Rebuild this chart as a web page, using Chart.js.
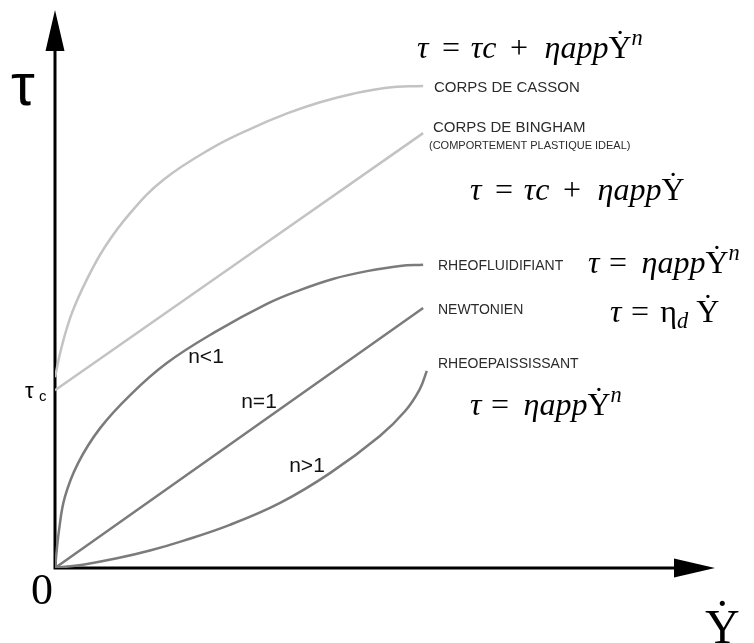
<!DOCTYPE html>
<html>
<head>
<meta charset="utf-8">
<script src="https://cdn.jsdelivr.net/npm/chart.js@4.4.1/dist/chart.umd.min.js"></script>
<style>
  html, body { margin: 0; padding: 0; background: #fff; }
  #wrap { width: 754px; height: 643px; }
</style>
</head>
<body>
<div id="wrap"><canvas id="rheo" width="754" height="643"></canvas></div>
<script>
// shear rate (x) and shear stress (y), arbitrary units
const cassonX = [0, 0.18, 0.46, 0.86, 1.36, 2.05, 2.95, 4.23, 5.32, 6.33, 7.23, 8.13, 9.05, 10.04];
const cassonY = [5.13, 5.94, 6.85, 7.74, 8.63, 9.54, 10.43, 11.26, 11.8, 12.22, 12.52, 12.75, 12.91, 12.96];

const binghamX = [0, 10.04];
const binghamY = [4.78, 11.69];

const fluidX = [0, 0.11, 0.27, 0.63, 1.23, 2.05, 3.05, 4.36, 5.78, 6.68, 7.58, 8.51, 9.41, 10.04];
const fluidY = [0, 1.02, 1.91, 2.82, 3.76, 4.65, 5.51, 6.34, 7.1, 7.47, 7.77, 7.98, 8.12, 8.15];

const newtonX = [0, 10.04];
const newtonY = [0, 6.99];

const thickX = [0, 0.76, 1.69, 2.59, 3.49, 4.77, 6.14, 7.5, 8.86, 9.55, 9.95, 10.14];
const thickY = [0, 0.09, 0.26, 0.47, 0.73, 1.16, 1.75, 2.55, 3.55, 4.22, 4.81, 5.3];

const curveLabels = ["CORPS DE CASSON", "CORPS DE BINGHAM", "RHEOFLUIDIFIANT", "NEWTONIEN", "RHEOEPAISSISSANT"];
const indexLabels = ["n<1", "n=1", "n>1"];

const pts = (xs, ys) => xs.map((x, i) => ({ x: x, y: ys[i] }));
const light = "#c3c3c3", dark = "#7b7b7b";

const serif = '"Liberation Serif"';
const UPS = "\u03A5", DOT = "\u02D9";

// upsilon with a dot above (shear rate symbol)
function ydot(ctx, x, y, size) {
  ctx.font = size + "px " + serif;
  const w = ctx.measureText(UPS).width;
  ctx.fillText(UPS, x, y);
  const dw = ctx.measureText(DOT).width;
  ctx.fillText(DOT, x + (w - dw) / 2, y - size * 0.2);
  return w;
}

// draw a formula made of pieces: [text, style] or a number (extra gap in em)
function formula(ctx, x, y, size, parts) {
  parts.forEach(p => {
    if (typeof p === "number") { x += p * size; return; }
    const [t, s] = p;
    if (s === "y") { x += ydot(ctx, x, y, size); return; }
    let f = size, dy = 0, st = "";
    if (s === "i") st = "italic ";
    if (s === "sup") { st = "italic "; f = size * 0.7; dy = -size * 0.42; }
    if (s === "sub") { st = "italic "; f = size * 0.7; dy = size * 0.2; }
    ctx.font = st + f + "px " + serif;
    ctx.fillText(t, x, y + dy);
    x += ctx.measureText(t).width;
  });
}

const axesPlugin = {
  id: "axes",
  beforeDatasetsDraw(chart) {
    const ctx = chart.ctx, a = chart.chartArea;
    const x0 = chart.scales.x.getPixelForValue(0), y0 = chart.scales.y.getPixelForValue(0);
    ctx.save();
    ctx.strokeStyle = "#000"; ctx.fillStyle = "#000"; ctx.lineWidth = 3;
    ctx.beginPath();
    ctx.moveTo(x0, y0 + 1.5); ctx.lineTo(x0, a.top + 38);
    ctx.moveTo(x0 - 1.5, y0); ctx.lineTo(a.right - 38, y0);
    ctx.stroke();
    ctx.beginPath();
    ctx.moveTo(x0, a.top); ctx.lineTo(x0 - 9.5, a.top + 41); ctx.lineTo(x0 + 9.5, a.top + 41); ctx.closePath();
    ctx.moveTo(a.right, y0); ctx.lineTo(a.right - 41, y0 - 9.5); ctx.lineTo(a.right - 41, y0 + 9.5); ctx.closePath();
    ctx.fill();
    ctx.restore();
  },
  afterDraw(chart) {
    const ctx = chart.ctx;
    ctx.save();
    ctx.fillStyle = "#000";
    ctx.textBaseline = "alphabetic";
    ctx.textAlign = "left";
    // axis names
    ctx.font = '60px "Liberation Sans"';
    ctx.fillText("\u03C4", 11, 105);
    ctx.font = '22px "Liberation Sans"';
    ctx.fillText("\u03C4", 25, 398);
    ctx.font = '15px "Liberation Sans"';
    ctx.fillText("c", 39, 401);
    ctx.font = "44px " + serif;
    ctx.textAlign = "center";
    ctx.fillText("0", 42, 604);
    ctx.textAlign = "left";
    ydot(ctx, 705, 643, 48);

    // curve names
    ctx.textBaseline = "middle";
    ctx.fillStyle = "#2b2b2b";
    ctx.font = '15px "Liberation Sans"';
    ctx.fillText(curveLabels[0], 434, 88);
    ctx.fillText(curveLabels[1], 433, 128);
    ctx.font = '11px "Liberation Sans"';
    ctx.fillText("(COMPORTEMENT PLASTIQUE IDEAL)", 429, 146);
    ctx.font = '14px "Liberation Sans"';
    ctx.fillText(curveLabels[2], 438, 266);
    ctx.fillText(curveLabels[3], 438, 310);
    ctx.fillText(curveLabels[4], 438, 364);

    ctx.textAlign = "center";
    ctx.font = '21px "Liberation Sans"';
    ctx.fillStyle = "#111";
    ctx.fillText(indexLabels[0], 206, 357);
    ctx.fillText(indexLabels[1], 259, 402);
    ctx.fillText(indexLabels[2], 307, 466);

    // constitutive laws
    ctx.textAlign = "left";
    ctx.textBaseline = "alphabetic";
    ctx.fillStyle = "#000";
    const sz = 32;
    formula(ctx, 417, 58, sz, [["\u03C4", "i"], 0.42, ["=", "r"], 0.34, ["\u03C4c", "i"], 0.42, ["+", "r"], 0.52, ["\u03B7app", "i"], ["", "y"], ["n", "sup"]]);
    formula(ctx, 470, 200, sz, [["\u03C4", "i"], 0.42, ["=", "r"], 0.34, ["\u03C4c", "i"], 0.42, ["+", "r"], 0.52, ["\u03B7app", "i"], ["", "y"]]);
    formula(ctx, 588, 273, sz, [["\u03C4", "i"], 0.3, ["=", "r"], 0.45, ["\u03B7app", "i"], ["", "y"], ["n", "sup"]]);
    formula(ctx, 610, 322, sz, [["\u03C4", "i"], 0.3, ["=", "r"], 0.35, ["\u03B7", "r"], ["d", "sub"], 0.25, ["", "y"]]);
    formula(ctx, 470, 415, sz, [["\u03C4", "i"], 0.3, ["=", "r"], 0.45, ["\u03B7app", "i"], ["", "y"], ["n", "sup"]]);
    ctx.restore();
  }
};

const line = (data, color) => ({
  data: data, borderColor: color, borderWidth: 2.5, pointRadius: 0,
  showLine: true, fill: false, tension: 0.4
});

new Chart(document.getElementById("rheo"), {
  type: "scatter",
  data: {
    datasets: [
      line(pts(cassonX, cassonY), light),
      line(pts(binghamX, binghamY), light),
      line(pts(fluidX, fluidY), dark),
      line(pts(newtonX, newtonY), dark),
      line(pts(thickX, thickY), dark)
    ]
  },
  options: {
    responsive: false, animation: false, devicePixelRatio: 1,
    layout: { padding: { left: 55, right: 39, top: 10, bottom: 75 } },
    plugins: { legend: { display: false }, tooltip: { enabled: false } },
    scales: {
      x: { type: "linear", min: 0, max: 18, display: false },
      y: { type: "linear", min: 0, max: 15, display: false }
    }
  },
  plugins: [axesPlugin]
});
</script>
</body>
</html>
